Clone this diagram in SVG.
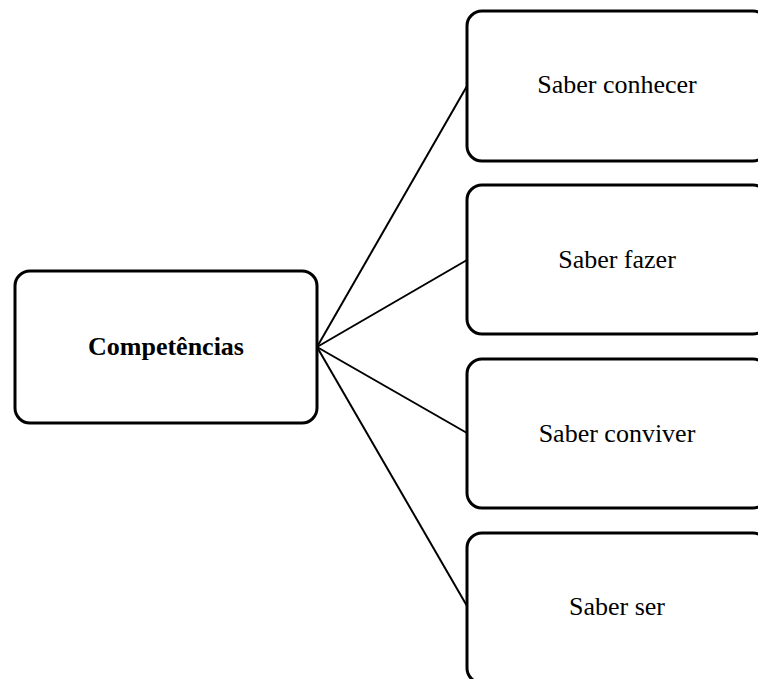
<svg xmlns="http://www.w3.org/2000/svg" width="758" height="679" viewBox="0 0 758 679">
<style>
.box{fill:#fff;stroke:#000;stroke-width:3}
.lbl{font-family:"Liberation Serif","Times New Roman",serif;font-size:26px;fill:#000;text-anchor:middle}
.b{font-weight:bold}
.conn line{stroke:#000;stroke-width:2}
</style>
<rect width="758" height="679" fill="#fff"/>
<g id="connectors" class="conn">
<line x1="317" y1="347" x2="467" y2="86"/>
<line x1="317" y1="347" x2="467" y2="260"/>
<line x1="317" y1="347" x2="467" y2="433"/>
<line x1="317" y1="347" x2="467" y2="606"/>
</g>
<g id="competencias">
<rect class="box" x="15" y="271" width="302" height="152" rx="15"/>
<text class="lbl b" x="166" y="355">Competências</text>
</g>
<g id="saber-conhecer">
<rect class="box" x="467" y="11" width="301" height="150" rx="15"/>
<text class="lbl" x="617" y="93">Saber conhecer</text>
</g>
<g id="saber-fazer">
<rect class="box" x="467" y="185" width="301" height="149" rx="15"/>
<text class="lbl" x="617" y="268">Saber fazer</text>
</g>
<g id="saber-conviver">
<rect class="box" x="467" y="359" width="301" height="149" rx="15"/>
<text class="lbl" x="617" y="442">Saber conviver</text>
</g>
<g id="saber-ser">
<rect class="box" x="467" y="533" width="301" height="150" rx="15"/>
<text class="lbl" x="617" y="615">Saber ser</text>
</g>
</svg>
